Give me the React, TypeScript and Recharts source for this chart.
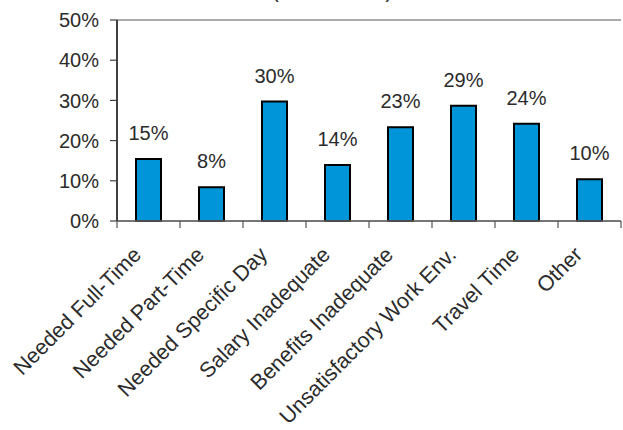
import React from "react";
import { BarChart, Bar, XAxis, YAxis, CartesianGrid, LabelList } from "recharts";

const categories = [
  "Needed Full-Time",
  "Needed Part-Time",
  "Needed Specific Day",
  "Salary Inadequate",
  "Benefits Inadequate",
  "Unsatisfactory Work Env.",
  "Travel Time",
  "Other",
];
const values = [15.4, 8.4, 29.7, 13.9, 23.3, 28.7, 24.2, 10.4];
const yTicks = [0, 10, 20, 30, 40, 50];
const titleText = "(All Reasons)";

const data = categories.map((c, i) => ({ name: c, value: values[i] }));

const FONT = "'Liberation Sans', Arial, sans-serif";
const TEXT = "#2b2b2b";

const XTick = (props: any) => {
  const { x, y, payload, index, visibleTicksCount } = props;
  const half = payload && payload.offset ? payload.offset : 31.5;
  const last = index === (visibleTicksCount ?? categories.length) - 1;
  const tx = x - 6;
  const ty = y + 35;
  return (
    <g>
      <line x1={x - half} y1={y} x2={x - half} y2={y + 7} stroke="#555" strokeWidth={1.2} />
      {last && <line x1={x + half} y1={y} x2={x + half} y2={y + 7} stroke="#555" strokeWidth={1.2} />}
      <text
        x={tx}
        y={ty}
        transform={`rotate(-45 ${tx} ${ty})`}
        textAnchor="end"
        fill={TEXT}
        fontSize={21.5}
        fontFamily={FONT}
      >
        {payload.value}
      </text>
    </g>
  );
};

export default function App() {
  return (
    <div style={{ position: "absolute", left: 0, top: 0, width: 623, height: 430, overflow: "hidden", background: "#fff" }}>
      <div
        style={{
          position: "absolute",
          left: 272,
          top: -19,
          fontFamily: FONT,
          fontSize: 20,
          lineHeight: "20px",
          color: TEXT,
          whiteSpace: "nowrap",
        }}
      >
        {titleText}
      </div>
      <BarChart
        width={623}
        height={430}
        data={data}
        margin={{ top: 20, right: 2, left: 0, bottom: 0 }}
        barCategoryGap={0}
      >
        <CartesianGrid vertical={false} stroke="#8c8c8c" strokeWidth={1.3} />
        <XAxis
          dataKey="name"
          interval={0}
          height={209}
          tickLine={false}
          tickSize={0}
          tickMargin={0}
          axisLine={{ stroke: "#666", strokeWidth: 1.5 }}
          tick={<XTick />}
        />
        <YAxis
          yAxisId="left"
          domain={[0, 50]}
          ticks={yTicks}
          width={117}
          tickSize={7}
          tickMargin={11}
          tickFormatter={(v: number) => `${v}%`}
          tick={{ fill: TEXT, fontSize: 20, fontFamily: FONT }}
          tickLine={{ stroke: "#404040", strokeWidth: 1.2 }}
          axisLine={{ stroke: "#404040", strokeWidth: 2 }}
        />
        <YAxis
          yAxisId="right"
          orientation="right"
          width={0}
          tick={false}
          tickLine={false}
          domain={[0, 50]}
          axisLine={{ stroke: "#8c8c8c", strokeWidth: 1.3 }}
        />
        <Bar
          yAxisId="left"
          dataKey="value"
          fill="#0095d8"
          stroke="#000"
          strokeWidth={2}
          barSize={25}
          isAnimationActive={false}
        >
          <LabelList
            dataKey="value"
            position="top"
            offset={19}
            formatter={(v: any) => `${Math.round(Number(v))}%`}
            fill={TEXT}
            fontSize={20}
            fontFamily={FONT}
          />
        </Bar>
      </BarChart>
    </div>
  );
}
